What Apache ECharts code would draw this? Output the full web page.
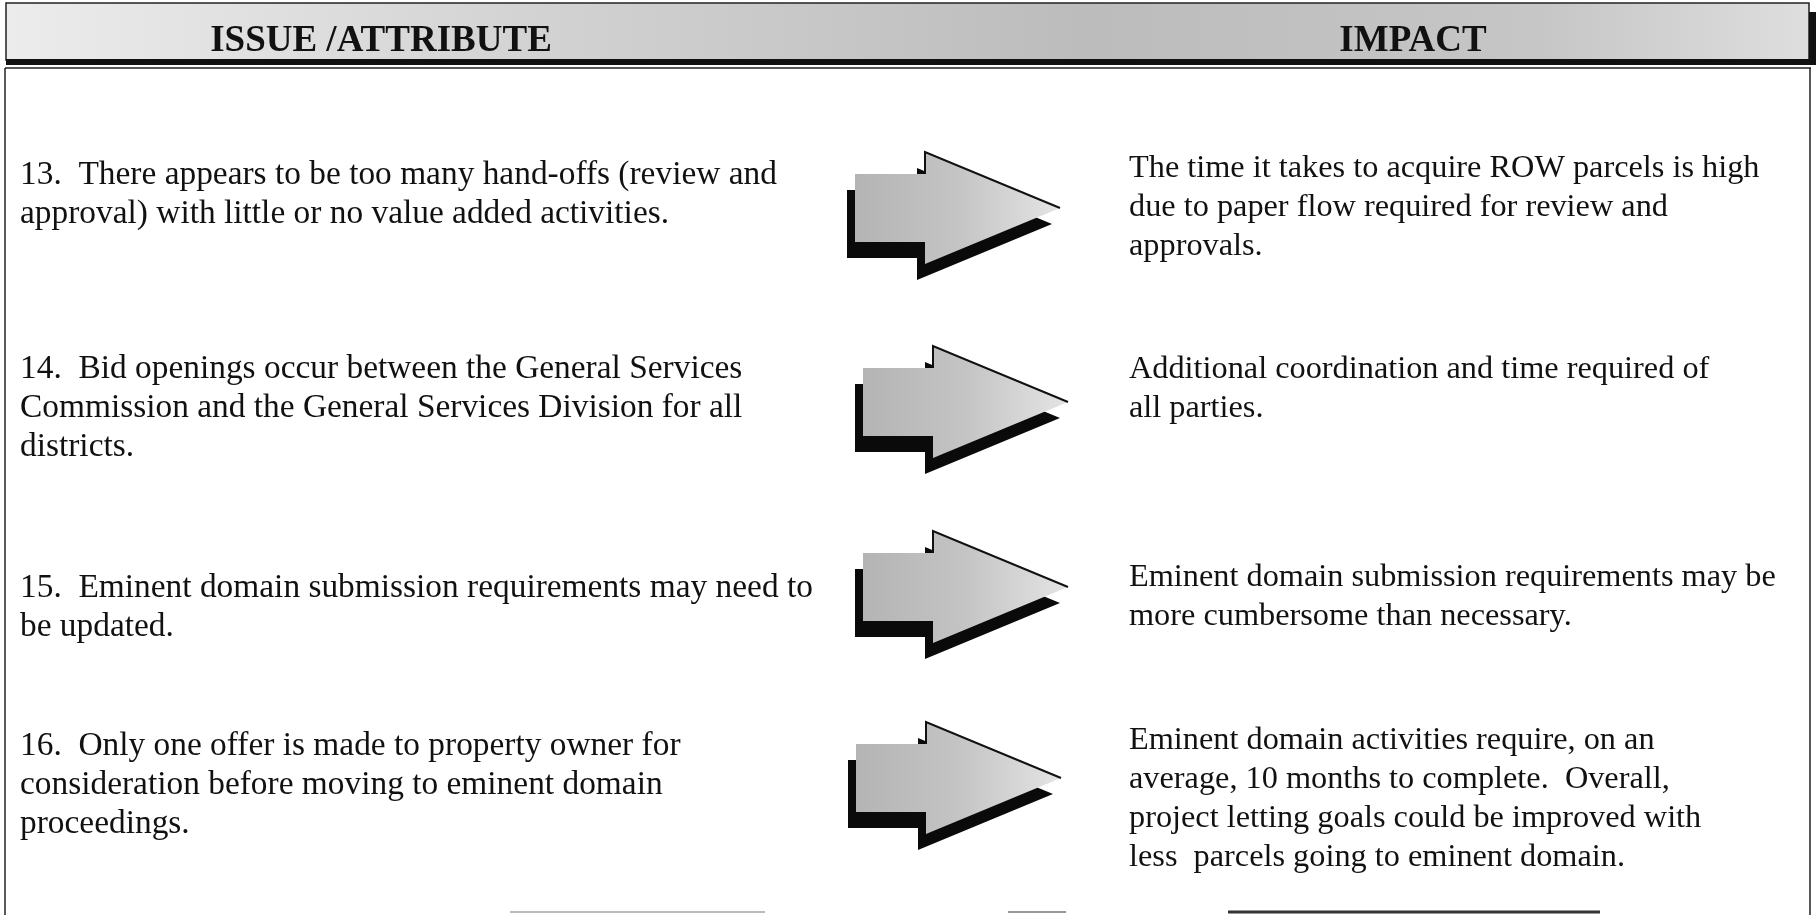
<!DOCTYPE html>
<html>
<head>
<meta charset="utf-8">
<script src="https://cdn.jsdelivr.net/npm/echarts@6/dist/echarts.min.js"></script>
<style>
html,body{margin:0;padding:0;background:#fff;}
#c{width:1816px;height:915px;}
</style>
</head>
<body>
<div id="c"></div>
<script>
const headerLabels = ['ISSUE /ATTRIBUTE', 'IMPACT'];
const issueNumbers = ['13.', '14.', '15.', '16.'];
const issueLines = [
  ['There appears to be too many hand-offs (review and', 'approval) with little or no value added activities.'],
  ['Bid openings occur between the General Services', 'Commission and the General Services Division for all', 'districts.'],
  ['Eminent domain submission requirements may need to', 'be updated.'],
  ['Only one offer is made to property owner for', 'consideration before moving to eminent domain', 'proceedings.']
];
const impactLines = [
  ['The time it takes to acquire ROW parcels is high', 'due to paper flow required for review and', 'approvals.'],
  ['Additional coordination and time required of', 'all parties.'],
  ['Eminent domain submission requirements may be', 'more cumbersome than necessary.'],
  ['Eminent domain activities require, on an', 'average, 10 months to complete.  Overall,', 'project letting goals could be improved with', 'less  parcels going to eminent domain.']
];

// layout constants
const LH = 39;
const issueTop = [156, 350, 569, 727];
const impactTop = [149, 350, 558, 721];
const arrowX = [855, 863, 863, 856];
const arrowY = [208, 402, 587, 778];
const FONT = "'Liberation Serif', 'Times New Roman', serif";

const chart = echarts.init(document.getElementById('c'), null, {renderer: 'canvas'});
const g = [];

// header band
g.push({type: 'rect', shape: {x: 6, y: 3, width: 1803, height: 57},
  style: {fill: new echarts.graphic.LinearGradient(0, 0, 1, 0, [
    {offset: 0, color: '#ececec'}, {offset: 0.3, color: '#d2d2d2'},
    {offset: 0.6, color: '#bcbcbc'}, {offset: 0.85, color: '#c6c6c6'}, {offset: 1, color: '#dedede'}]),
    stroke: '#222', lineWidth: 1.5}});
g.push({type: 'rect', shape: {x: 6, y: 59, width: 1810, height: 6}, style: {fill: '#111'}});
g.push({type: 'rect', shape: {x: 1809, y: 12, width: 7, height: 52}, style: {fill: '#111'}});
const headerX = [381, 1413];
headerLabels.forEach((t, i) => {
  g.push({type: 'text', x: headerX[i], y: 41,
    style: {text: t, font: "bold 37px " + FONT, fill: '#111', align: 'center', verticalAlign: 'middle'}});
});

// body box
g.push({type: 'line', shape: {x1: 5, y1: 68, x2: 1811, y2: 68}, style: {stroke: '#222', lineWidth: 1.5}});
g.push({type: 'line', shape: {x1: 5, y1: 68, x2: 5, y2: 915}, style: {stroke: '#222', lineWidth: 1.5}});
g.push({type: 'line', shape: {x1: 1810, y1: 68, x2: 1810, y2: 915}, style: {stroke: '#222', lineWidth: 1.5}});
g.push({type: 'line', shape: {x1: 1228, y1: 912, x2: 1600, y2: 912}, style: {stroke: '#333', lineWidth: 3}});
g.push({type: 'line', shape: {x1: 510, y1: 912, x2: 765, y2: 912}, style: {stroke: '#bbb', lineWidth: 2}});
g.push({type: 'line', shape: {x1: 1008, y1: 912, x2: 1066, y2: 912}, style: {stroke: '#999', lineWidth: 2}});

// rows
issueLines.forEach((lines, i) => {
  const txt = issueNumbers[i] + '  ' + lines.join('\n');
  g.push({type: 'text', x: 20, y: issueTop[i],
    style: {text: txt, font: "33.4px " + FONT, fill: '#111', lineHeight: LH, verticalAlign: 'top'}});
});
impactLines.forEach((lines, i) => {
  g.push({type: 'text', x: 1129, y: impactTop[i],
    style: {text: lines.join('\n'), font: "32.3px " + FONT, fill: '#111', lineHeight: LH, verticalAlign: 'top'}});
});

// arrows
function arrowPts(x0, cy, dx, dy) {
  return [[x0, cy - 34], [x0 + 70, cy - 34], [x0 + 70, cy - 56], [x0 + 205, cy],
          [x0 + 70, cy + 56], [x0 + 70, cy + 34], [x0, cy + 34]].map(p => [p[0] + dx, p[1] + dy]);
}
arrowX.forEach((x0, i) => {
  const cy = arrowY[i];
  g.push({type: 'polygon', shape: {points: arrowPts(x0, cy, -8, 16)}, style: {fill: '#0a0a0a'}});
  g.push({type: 'polygon', shape: {points: arrowPts(x0, cy, 0, 0)},
    style: {fill: new echarts.graphic.LinearGradient(0, 0, 1, 0, [
      {offset: 0, color: '#b4b4b4'}, {offset: 0.5, color: '#c4c4c4'}, {offset: 1, color: '#e4e4e4'}])}});
  g.push({type: 'polyline', shape: {points: [[x0 + 70, cy - 34], [x0 + 70, cy - 56], [x0 + 205, cy]]},
    style: {stroke: '#111', lineWidth: 2, fill: null}});
});

chart.setOption({backgroundColor: '#fff', animation: false, graphic: {elements: g}});
</script>
</body>
</html>
